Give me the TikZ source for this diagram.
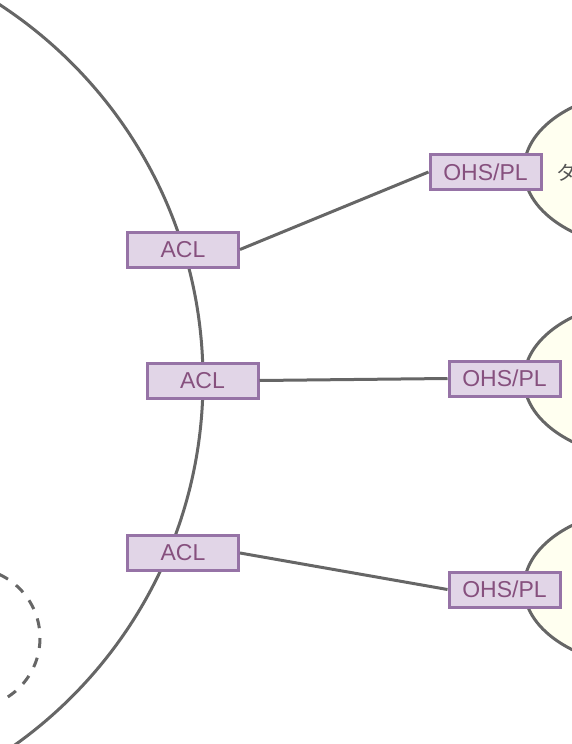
\documentclass[tikz,border=0pt]{standalone}
\usepackage{fontspec}
\setmainfont{Liberation Sans}
\newfontfamily\cjkfont{Noto Sans CJK JP}
\definecolor{linegray}{HTML}{666666}
\definecolor{boxfill}{HTML}{E1D5E7}
\definecolor{boxdraw}{HTML}{9673A6}
\definecolor{boxtext}{HTML}{86507E}
\definecolor{ctxfill}{HTML}{FFFFF0}
\definecolor{ctxtext}{HTML}{555555}
\tikzset{
  x=1pt, y=-1pt,
  gline/.style={draw=linegray, line width=3pt},
  ctx/.style={gline, fill=ctxfill},
  relbox/.style={draw=boxdraw, fill=boxfill, line width=3pt, text=boxtext,
    minimum width=111pt, minimum height=35pt, inner sep=0pt,
    font=\fontsize{23}{27}\selectfont},
  ctxlabel/.style={text=ctxtext, inner sep=0pt, anchor=west,
    font=\cjkfont\fontsize{20}{23}\selectfont}
}
\begin{document}
\begin{tikzpicture}
\useasboundingbox (0,0) rectangle (572,744);
\clip (0,0) rectangle (572,744);
% big context circle
\draw[gline] (-245,380) circle[radius=448];
% dashed circle bottom-left
\draw[gline, dash pattern=on 10pt off 10pt] (-30,638) circle[radius=70];
% right-hand contexts
\draw[ctx] (654,169.5) ellipse[x radius=130, y radius=80];
\draw[ctx] (654,379.5) ellipse[x radius=130, y radius=80];
\draw[ctx] (654,587.5) ellipse[x radius=130, y radius=80];
\node[ctxlabel] (t1) at (556,173) {タ};
% boxes
\node[relbox] (acl1) at (183,249.5) {ACL};
\node[relbox] (acl2) at (202.5,380.5) {ACL};
\node[relbox] (acl3) at (183,553) {ACL};
\node[relbox] (ohs1) at (485.5,172) {OHS/PL};
\node[relbox] (ohs2) at (504.5,378.5) {OHS/PL};
\node[relbox] (ohs3) at (504.5,589.5) {OHS/PL};
% connectors
\draw[gline] (acl1.east) -- (ohs1.west);
\draw[gline] (acl2.east) -- (ohs2.west);
\draw[gline] (acl3.east) -- (ohs3.west);
\end{tikzpicture}
\end{document}
